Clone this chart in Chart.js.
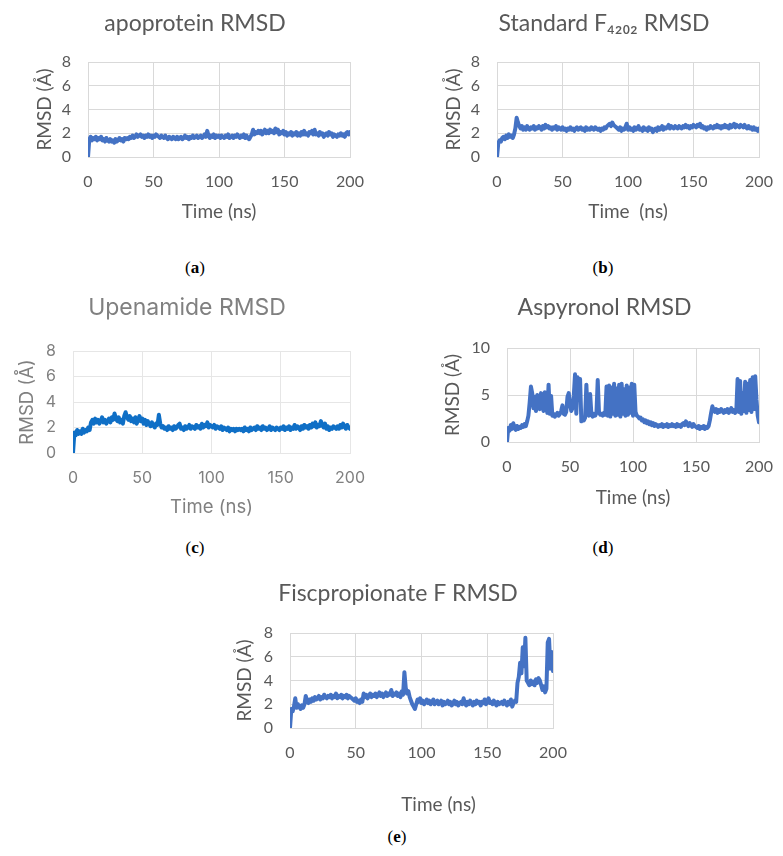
<!DOCTYPE html>
<html>
<head>
<meta charset="utf-8">
<script src="https://cdn.jsdelivr.net/npm/chart.js@4.4.1/dist/chart.umd.min.js"></script>
<style>
    html, body { margin: 0; padding: 0; background: #fff; overflow: hidden; }
    #page { position: relative; width: 783px; height: 856px; }
    canvas { position: absolute; }
    .caption {
        position: absolute; width: 60px; margin-left: -30px; text-align: center;
        font: 17px "Liberation Serif", serif; line-height: 20px; color: #000;
    }
</style>
</head>
<body>
<div id="page">
    <canvas id="chartA"></canvas>
    <canvas id="chartB"></canvas>
    <canvas id="chartC"></canvas>
    <canvas id="chartD"></canvas>
    <canvas id="chartE"></canvas>
    <div class="caption" style="left:195px;top:258px">(<b>a</b>)</div>
    <div class="caption" style="left:603px;top:258px">(<b>b</b>)</div>
    <div class="caption" style="left:195px;top:538px">(<b>c</b>)</div>
    <div class="caption" style="left:603px;top:538px">(<b>d</b>)</div>
    <div class="caption" style="left:397px;top:827px">(<b>e</b>)</div>
</div>
<script>
// one RMSD sample per ns, 0..200 ns
const SAMPLE_STEP_NS = 1;

const timeTicks = [0, 50, 100, 150, 200];
const rmsdTicks8 = [0, 2, 4, 6, 8];
const rmsdTicks10 = [0, 5, 10];

// RMSD (Å)
const rmsdApoprotein = [0,
    1.5,1.7,1.4,1.6,1.5,1.7,1.4,1.6,1.5,1.7,
    1.4,1.5,1.3,1.6,1.4,1.3,1.5,1.3,1.4,1.2,
    1.5,1.3,1.4,1.6,1.4,1.5,1.3,1.6,1.5,1.6,
    1.5,1.7,1.6,1.8,1.6,1.7,1.9,1.7,1.8,1.9,
    1.7,1.8,1.6,1.8,1.7,1.9,1.7,1.8,1.6,1.8,
    1.7,1.9,1.8,1.7,1.6,1.8,1.7,1.6,1.8,1.6,
    1.5,1.7,1.6,1.5,1.7,1.6,1.5,1.7,1.5,1.6,
    1.7,1.5,1.6,1.8,1.6,1.7,1.5,1.7,1.6,1.8,
    1.6,1.7,1.8,1.6,1.7,1.8,1.6,1.7,1.9,1.7,
    2.2,1.8,1.6,1.8,1.7,1.9,1.6,1.8,1.7,1.8,
    1.6,1.8,1.7,1.6,1.8,1.7,1.9,1.6,1.7,1.8,
    1.6,1.8,1.7,1.9,1.7,1.6,1.8,1.7,1.9,1.6,
    1.8,1.6,1.5,1.7,1.9,2.3,1.9,2.1,2.0,2.2,
    2.0,2.2,1.9,2.1,2.3,2.0,2.2,2.0,2.3,2.1,
    2.2,2.0,2.4,2.1,2.3,1.9,2.1,2.0,2.2,1.9,
    2.1,1.8,2.0,1.9,2.1,1.8,2.0,1.9,2.1,1.8,
    2.0,1.8,2.1,1.9,2.2,1.9,2.0,1.8,2.1,2.0,
    2.2,1.9,2.3,1.9,2.0,1.8,2.1,1.9,2.0,1.7,
    1.9,2.0,1.8,2.1,1.9,2.0,1.7,1.9,1.8,1.7,
    1.9,1.8,2.0,1.8,1.9,1.7,2.0,2.1,1.9,2.1
];

const rmsdStandard = [0,
    1.2,1.4,1.3,1.6,1.7,1.5,1.8,1.6,1.9,1.7,
    1.8,1.6,1.9,2.4,3.3,2.9,2.6,2.4,2.6,2.3,
    2.5,2.3,2.6,2.4,2.3,2.5,2.4,2.6,2.3,2.5,
    2.4,2.6,2.5,2.3,2.6,2.4,2.7,2.5,2.6,2.4,
    2.5,2.3,2.5,2.4,2.6,2.3,2.5,2.4,2.3,2.5,
    2.3,2.4,2.2,2.4,2.3,2.5,2.3,2.4,2.2,2.4,
    2.5,2.3,2.4,2.5,2.3,2.4,2.2,2.5,2.3,2.4,
    2.3,2.5,2.4,2.3,2.5,2.4,2.3,2.4,2.2,2.4,
    2.3,2.5,2.4,2.6,2.7,2.8,2.6,2.9,2.7,2.6,
    2.5,2.4,2.3,2.5,2.2,2.4,2.3,2.5,2.8,2.3,
    2.5,2.3,2.4,2.2,2.5,2.3,2.4,2.6,2.3,2.4,
    2.2,2.5,2.3,2.4,2.2,2.5,2.3,2.4,2.1,2.3,
    2.4,2.2,2.5,2.3,2.4,2.6,2.3,2.5,2.4,2.5,
    2.7,2.4,2.6,2.5,2.4,2.6,2.5,2.4,2.6,2.5,
    2.4,2.6,2.5,2.7,2.5,2.6,2.4,2.6,2.5,2.7,
    2.6,2.5,2.7,2.6,2.8,2.5,2.6,2.4,2.5,2.3,
    2.5,2.4,2.6,2.5,2.4,2.6,2.5,2.7,2.5,2.6,
    2.4,2.6,2.5,2.7,2.5,2.6,2.4,2.7,2.5,2.6,
    2.8,2.5,2.7,2.6,2.5,2.7,2.6,2.5,2.7,2.5,
    2.4,2.6,2.4,2.5,2.3,2.5,2.3,2.4,2.2,2.4
];

const rmsdUpenamide = [0,
    1.6,1.4,1.8,1.5,1.7,1.5,1.9,1.6,1.8,1.7,
    2.0,1.8,2.4,2.6,2.3,2.7,2.4,2.6,2.3,2.5,
    2.8,2.4,2.6,2.3,2.5,2.7,2.4,2.8,2.6,3.1,
    2.7,2.5,2.8,2.4,2.6,2.3,2.9,3.2,2.8,2.6,
    2.9,2.5,2.7,2.4,2.8,2.3,2.6,2.9,2.5,2.7,
    2.3,2.6,2.2,2.5,2.3,2.1,2.4,2.2,2.0,2.3,
    2.2,3.0,2.3,2.0,2.1,1.9,2.0,1.8,2.1,1.9,
    2.0,1.8,2.1,1.9,2.0,2.2,2.3,1.9,2.0,1.8,
    2.1,1.9,2.0,2.2,1.9,2.1,2.0,1.9,2.2,2.0,
    2.1,1.9,2.3,2.0,2.2,2.1,2.4,2.0,2.2,2.1,
    2.0,2.2,1.9,2.1,2.0,1.9,2.1,1.8,2.0,1.9,
    1.8,2.0,1.7,1.9,1.8,1.9,1.7,1.9,1.8,1.9,
    1.8,1.9,1.7,2.0,1.8,1.9,1.7,2.0,1.8,1.9,
    2.0,1.8,2.1,1.9,2.0,1.8,2.1,1.9,2.0,1.8,
    1.9,2.1,1.8,2.0,1.9,1.8,2.0,1.9,1.8,2.0,
    1.9,2.1,1.8,2.0,1.9,2.1,1.8,2.0,1.9,2.2,
    1.9,2.1,2.0,1.8,2.1,1.9,2.2,2.0,2.1,1.9,
    2.2,2.0,2.3,2.1,2.4,2.0,2.2,2.1,2.5,2.2,
    2.0,2.3,1.9,2.1,1.8,2.0,1.9,2.1,2.0,1.9,
    2.1,1.9,2.2,2.0,2.3,2.1,1.9,2.2,2.0,1.9
];

const rmsdAspyronol = [0,
    1.5,1.2,1.8,1.4,2.0,1.5,1.3,1.7,1.4,1.6,
    1.5,1.8,1.6,1.9,1.7,2.2,2.8,4.2,5.9,5.2,
    3.6,4.8,3.3,5.0,4.1,3.5,5.2,4.4,3.3,5.3,
    4.0,3.1,6.1,3.0,4.9,2.8,3.0,2.7,2.9,3.1,
    2.8,3.0,3.3,3.9,3.0,2.9,3.2,4.8,5.2,4.0,
    3.3,3.6,4.9,7.2,3.0,6.9,4.5,6.7,2.2,2.4,
    2.3,2.6,6.1,3.0,2.8,5.1,2.9,2.7,3.0,2.8,
    3.1,6.6,3.2,2.9,3.0,2.8,3.1,2.9,5.9,2.8,
    6.0,2.7,5.8,3.0,6.2,2.8,5.7,2.9,6.1,2.7,
    6.2,3.0,5.6,2.8,6.0,2.9,5.8,3.1,6.2,2.8,
    6.1,3.2,2.8,2.7,2.5,2.6,2.3,2.4,2.1,2.3,
    2.0,2.2,1.9,2.1,1.8,2.0,1.7,1.9,1.8,1.6,
    1.8,1.7,1.9,1.6,1.8,1.7,1.9,1.6,1.8,1.7,
    1.9,1.7,1.8,1.6,1.9,1.7,1.8,1.6,1.9,2.0,
    1.8,2.2,1.9,1.7,2.0,1.8,1.6,1.9,1.7,1.6,
    1.5,1.7,1.4,1.6,1.5,1.7,1.4,1.6,1.5,1.7,
    2.3,3.1,3.8,3.4,3.2,3.5,3.1,3.4,3.2,3.5,
    3.3,3.1,3.4,3.2,3.5,3.1,3.3,3.6,3.2,3.4,
    3.1,3.3,6.7,3.2,6.5,3.0,5.2,3.3,6.4,3.1,
    6.2,3.4,6.6,3.2,6.9,3.5,7.0,4.5,2.8,2.1
];

const rmsdFiscpropionate = [0,
    1.6,1.4,1.8,2.5,1.7,2.0,1.8,1.6,1.9,1.7,
    2.0,2.7,2.3,2.1,2.4,2.2,2.5,2.3,2.6,2.4,
    2.5,2.7,2.4,2.6,2.5,2.8,2.6,2.5,2.7,2.6,
    2.8,2.5,2.7,2.6,2.9,2.5,2.7,2.6,2.8,2.5,
    2.7,2.6,2.8,2.5,2.7,2.6,2.5,2.4,2.3,2.5,
    2.2,2.3,2.1,2.4,2.2,2.9,2.6,2.8,2.5,2.7,
    2.9,2.6,2.8,2.7,2.9,2.6,2.8,3.0,2.7,2.9,
    2.6,2.8,3.0,2.7,2.9,2.8,3.2,2.7,2.9,2.8,
    3.0,2.7,2.9,2.6,3.1,2.8,4.7,3.4,2.9,3.1,
    2.6,2.3,2.0,1.8,1.6,2.0,2.4,2.2,2.5,2.1,
    2.3,2.0,2.2,2.4,2.1,2.3,2.0,2.2,2.4,2.0,
    2.2,2.3,2.0,2.1,2.3,1.9,2.2,2.0,2.1,2.3,
    2.0,2.2,1.9,2.1,2.3,2.0,2.2,1.9,2.1,2.2,
    2.0,2.5,2.1,1.9,2.2,2.0,2.3,2.1,1.9,2.2,
    2.0,2.3,2.1,2.2,1.9,2.2,2.1,2.4,2.0,2.2,
    2.5,2.1,2.2,2.0,2.3,2.1,1.9,2.2,2.0,2.1,
    2.2,2.0,2.3,2.1,1.9,2.2,2.0,2.4,1.8,2.1,
    2.3,2.2,3.8,4.3,5.5,4.6,6.8,5.2,7.6,4.0,
    3.8,3.6,4.0,3.7,3.9,3.6,4.1,3.8,4.2,4.0,
    3.6,3.2,3.5,3.0,3.3,7.2,7.5,5.0,6.4,4.8
];

// Excel-like look for most panels, the Upenamide panel uses a lighter theme
const excelTheme = {
    font: 'Lato', text: '#595959', grid: '#d9d9d9', line: '#4472c4',
    titleSize: 23, tickSize: 16, axisTitleSize: 19
};
const lightTheme = {
    font: 'Inter', text: '#808080', grid: '#e6e6e6', line: '#0f6fc6',
    titleSize: 23, tickSize: 16, axisTitleSize: 18.5
};

// space kept right of the plot so the last x label fits
const RIGHT_GUTTER = 18;
const Y_LABEL_GAP = 17;

const panels = [
    { id: 'chartA', title: 'apoprotein RMSD', xTitle: 'Time (ns)', values: rmsdApoprotein,
      yMax: 8, yTicks: rmsdTicks8, theme: excelTheme,
      titleX: 195, titleY: 24, plot: { left: 88, top: 62, right: 350, bottom: 157 },
      yTitleX: 44.5, xTickY: 182, xTitleY: 212, xTitleShift: 0 },
    { id: 'chartB', title: 'Standard F\u2084\u2082\u2080\u2082 RMSD', xTitle: 'Time  (ns)', values: rmsdStandard,
      yMax: 8, yTicks: rmsdTicks8, theme: excelTheme,
      titleX: 604, titleY: 24, plot: { left: 497, top: 62, right: 759, bottom: 157 },
      yTitleX: 454, xTickY: 182, xTitleY: 212, xTitleShift: 0 },
    { id: 'chartC', title: 'Upenamide RMSD', xTitle: 'Time (ns)', values: rmsdUpenamide,
      yMax: 8, yTicks: rmsdTicks8, theme: lightTheme,
      titleX: 187, titleY: 308, plot: { left: 73, top: 351, right: 350, bottom: 453 },
      yTitleX: 27, xTickY: 478, xTitleY: 508, xTitleShift: 0 },
    { id: 'chartD', title: 'Aspyronol RMSD', xTitle: 'Time (ns)', values: rmsdAspyronol,
      yMax: 10, yTicks: rmsdTicks10, theme: excelTheme,
      titleX: 604.5, titleY: 308, plot: { left: 507, top: 348, right: 759, bottom: 442 },
      yTitleX: 452.5, xTickY: 467, xTitleY: 497.5, xTitleShift: 0 },
    { id: 'chartE', title: 'Fiscpropionate F RMSD', xTitle: 'Time (ns)', values: rmsdFiscpropionate,
      yMax: 8, yTicks: rmsdTicks8, theme: excelTheme,
      titleX: 398, titleY: 594, plot: { left: 290, top: 633, right: 553, bottom: 728 },
      yTitleX: 245.3, xTickY: 753, xTitleY: 805, xTitleShift: 17 }
];

// draws the x axis title off-centre (the last panel has it pushed right)
const shiftedXTitle = {
    id: 'shiftedXTitle',
    afterDraw(chart, args, opts) {
        if (!opts.text) return;
        const ctx = chart.ctx;
        const area = chart.chartArea;
        ctx.save();
        ctx.font = opts.size + 'px ' + opts.family;
        ctx.fillStyle = opts.color;
        ctx.textAlign = 'center';
        ctx.textBaseline = 'middle';
        ctx.fillText(opts.text, (area.left + area.right) / 2 + opts.shift, opts.y);
        ctx.restore();
    }
};

function drawPanel(p) {
    const th = p.theme;
    const titleLH = th.titleSize * 1.2;
    const axisLH = th.axisTitleSize * 1.2;
    const tickLH = th.tickSize * 1.2;

    const right = Math.round(p.plot.right + RIGHT_GUTTER);
    const left = Math.round(2 * p.titleX - right);
    const top = Math.round(p.titleY - titleLH / 2);
    const bottom = Math.round(p.xTitleY + axisLH / 2 + 1);

    const canvas = document.getElementById(p.id);
    canvas.width = right - left;
    canvas.height = bottom - top;
    canvas.style.left = left + 'px';
    canvas.style.top = top + 'px';

    const tickFont = { family: th.font, size: th.tickSize };
    const axisFont = { family: th.font, size: th.axisTitleSize };
    const useShift = p.xTitleShift !== 0;

    new Chart(canvas, {
        type: 'line',
        data: {
            datasets: [{
                data: p.values.map((v, i) => ({ x: i * SAMPLE_STEP_NS, y: v })),
                borderColor: th.line,
                borderWidth: 4,
                borderJoinStyle: 'round',
                borderCapStyle: 'round',
                pointRadius: 0,
                tension: 0,
                fill: false
            }]
        },
        options: {
            responsive: false,
            animation: false,
            events: [],
            layout: { padding: 0 },
            plugins: {
                legend: { display: false },
                tooltip: { enabled: false },
                title: {
                    display: true,
                    text: p.title,
                    color: th.text,
                    font: { family: th.font, size: th.titleSize, weight: 'normal' },
                    padding: { top: 0, bottom: p.plot.top - top - titleLH }
                },
                shiftedXTitle: {
                    text: useShift ? p.xTitle : '',
                    shift: p.xTitleShift,
                    y: p.xTitleY - top,
                    color: th.text,
                    family: th.font,
                    size: th.axisTitleSize
                }
            },
            scales: {
                x: {
                    type: 'linear',
                    min: 0,
                    max: 200,
                    afterBuildTicks: s => { s.ticks = timeTicks.map(v => ({ value: v })); },
                    afterFit: s => { s.height = bottom - p.plot.bottom; },
                    // invisible tick marks push the labels down without widening the side padding
                    grid: {
                        color: th.grid, drawTicks: true, tickColor: 'rgba(0,0,0,0)',
                        tickLength: p.xTickY - p.plot.bottom - tickLH / 2
                    },
                    border: { color: th.grid },
                    ticks: { color: th.text, font: tickFont, maxRotation: 0, padding: 0 },
                    title: {
                        display: !useShift, text: p.xTitle, color: th.text, font: axisFont,
                        padding: { top: 0, bottom: 1 }
                    }
                },
                y: {
                    type: 'linear',
                    min: 0,
                    max: p.yMax,
                    afterBuildTicks: s => { s.ticks = p.yTicks.map(v => ({ value: v })); },
                    afterFit: s => { s.width = p.plot.left - left; },
                    grid: {
                        color: th.grid, drawTicks: true, tickColor: 'rgba(0,0,0,0)',
                        tickLength: Y_LABEL_GAP
                    },
                    border: { color: th.grid },
                    ticks: { color: th.text, font: tickFont, padding: 0 },
                    title: {
                        display: true, text: 'RMSD (\u00c5)', color: th.text, font: axisFont,
                        padding: { top: p.yTitleX - left - axisLH / 2, bottom: 0 }
                    }
                },
                gutter: {
                    type: 'linear',
                    position: 'right',
                    grid: { display: false },
                    border: { display: false },
                    ticks: { display: false },
                    afterFit: s => { s.width = right - p.plot.right; }
                }
            }
        },
        plugins: [shiftedXTitle]
    });
}

panels.forEach(drawPanel);
</script>
</body>
</html>
